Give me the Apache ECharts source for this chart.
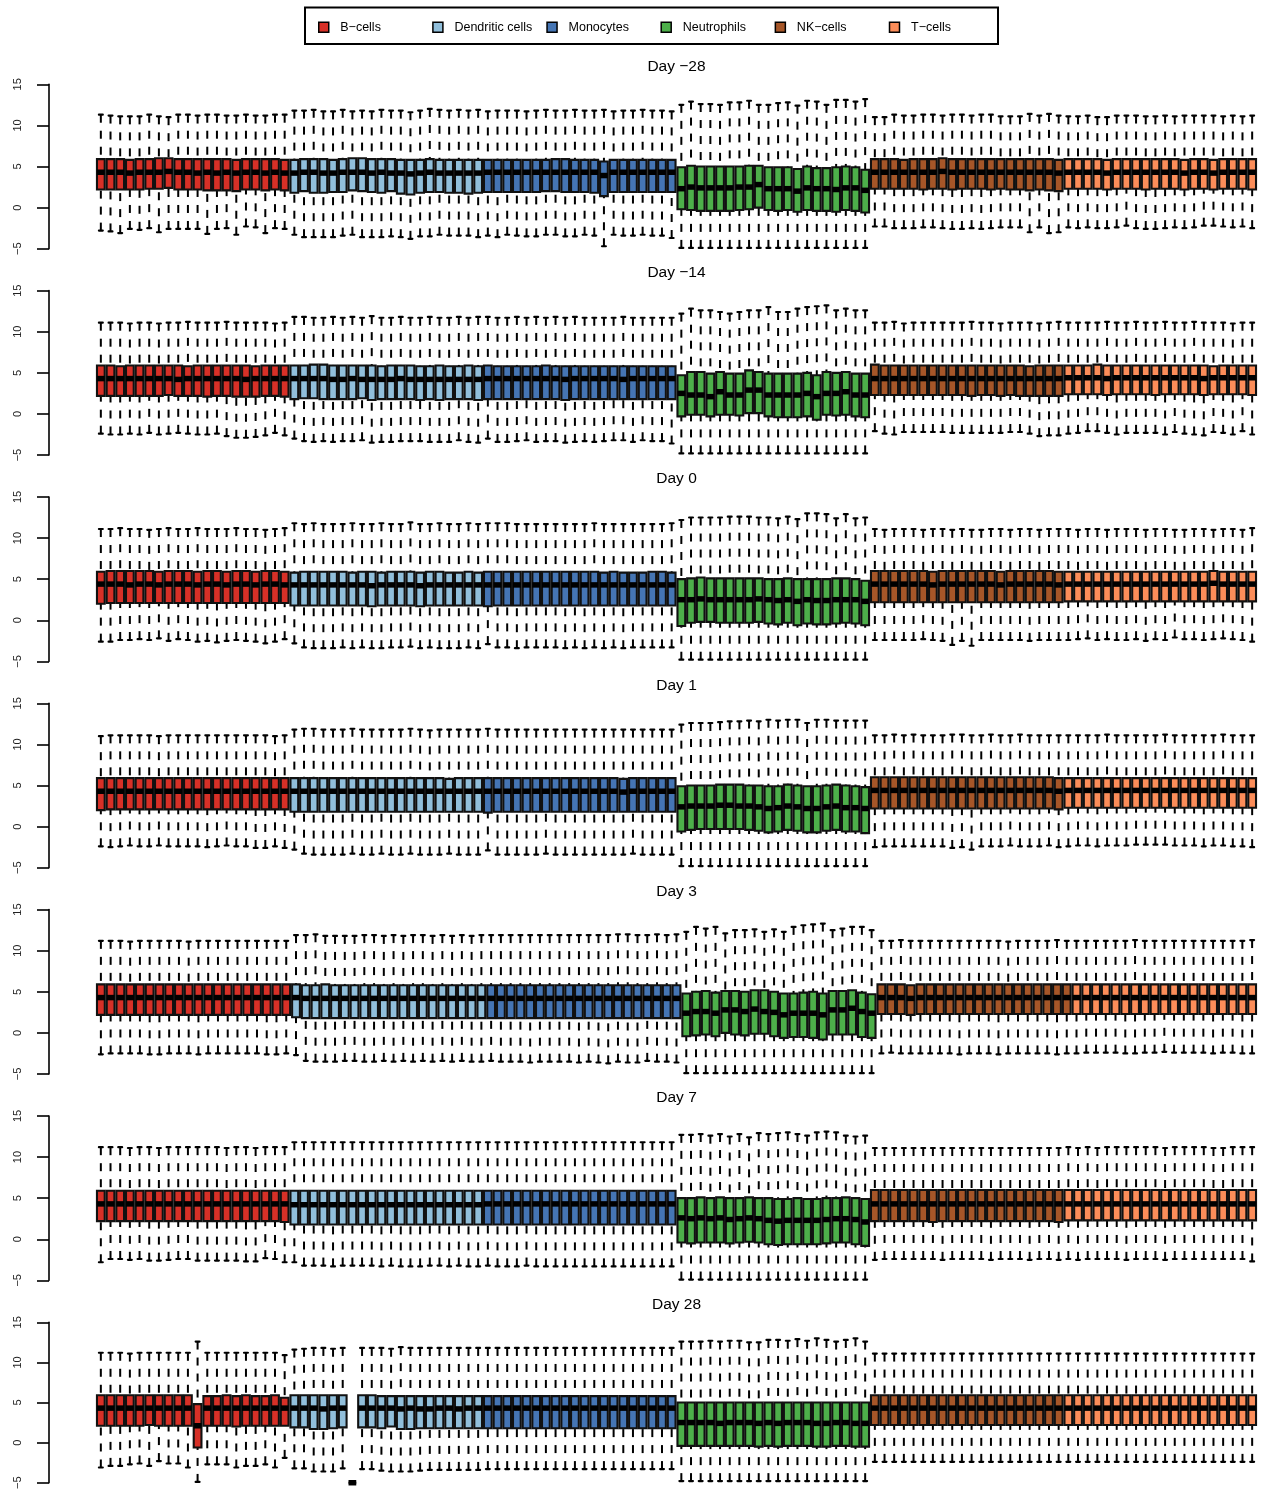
<!DOCTYPE html>
<html>
<head>
<meta charset="utf-8">
<script src="https://cdn.jsdelivr.net/npm/echarts@6/dist/echarts.min.js"></script>
<style>
html, body { margin: 0; padding: 0; background: #fff; }
#chart { width: 1264px; height: 1492px; }
</style>
</head>
<body>
<div id="chart"></div>
<script>
// Cell types, colours and panels
const cellTypes = ['B\u2212cells', 'Dendritic cells', 'Monocytes', 'Neutrophils', 'NK\u2212cells', 'T\u2212cells'];
const cellColors = ['#D73027', '#91BFDB', '#4575B4', '#4DAF4A', '#A65628', '#FC8D59'];
const dayLabels = ['Day \u221228', 'Day \u221214', 'Day 0', 'Day 1', 'Day 3', 'Day 7', 'Day 28'];
const yTicks = [-5, 0, 5, 10, 15];
// number of samples (boxes) per cell type, per day
const groupSizes = [
  [20, 20, 20, 20, 20, 20],
  [20, 20, 20, 20, 20, 20],
  [20, 20, 20, 20, 20, 20],
  [20, 20, 20, 20, 20, 20],
  [20, 20, 20, 20, 20, 19],
  [20, 20, 20, 20, 20, 20],
  [20, 20, 20, 20, 20, 20]
];

// ---- Day -28: upper whisker, Q3, median, Q1, lower whisker (per sample) ----
const dayM28Hi = [
  11.3,11.2,11.1,11.1,11.1,11.3,11.1,11.0,11.3,11.3,11.2,11.3,11.3,11.2,11.2,11.3,11.2,11.2,11.3,11.3,
  11.8,11.8,11.9,11.7,11.7,11.9,11.7,11.8,11.7,11.9,11.8,11.8,11.6,11.8,12.0,11.9,11.8,11.9,11.8,11.9,
  11.7,11.8,11.8,11.8,11.7,11.8,11.9,11.8,11.8,11.9,11.8,11.8,11.9,11.7,11.8,11.8,11.9,11.8,11.8,11.7,
  12.5,12.9,12.6,12.6,12.5,12.8,12.8,13.0,12.5,12.5,12.7,12.8,12.4,13.0,12.9,12.5,13.1,13.1,12.9,13.2,
  11.0,11.0,11.3,11.2,11.2,11.3,11.3,11.2,11.3,11.3,11.2,11.3,11.3,11.1,11.1,11.1,11.4,11.2,11.4,11.2,
  11.1,11.1,11.2,11.0,11.0,11.2,11.2,11.2,11.1,11.1,11.2,11.1,11.2,11.2,11.2,11.2,11.1,11.2,11.1,11.2
];
const dayM28Q3 = [
  5.9,5.9,5.9,5.8,5.9,5.9,6.0,6.0,5.9,5.9,5.9,5.9,5.9,5.9,5.8,5.9,5.9,5.9,5.9,5.8,
  5.8,5.9,5.9,5.9,5.8,5.9,6.0,6.0,5.9,5.9,5.9,5.8,5.8,5.8,5.9,5.8,5.8,5.8,5.8,5.8,
  5.8,5.8,5.8,5.8,5.8,5.8,5.8,5.9,5.9,5.8,5.8,5.8,5.6,5.8,5.8,5.8,5.8,5.8,5.8,5.8,
  4.9,5.1,5.0,5.0,5.0,5.0,5.0,5.1,5.1,4.9,4.9,4.9,4.7,5.0,4.8,4.8,4.9,5.0,4.9,4.6,
  5.9,5.9,5.9,5.8,5.9,5.9,5.9,6.0,5.9,5.9,5.9,5.9,5.9,5.9,5.9,5.9,5.9,5.9,5.9,5.8,
  5.9,5.9,5.9,5.9,5.8,5.9,5.9,5.9,5.9,5.9,5.9,5.9,5.8,5.9,5.9,5.8,5.9,5.9,5.9,5.9
];
const dayM28Med = [
  4.3,4.3,4.3,4.2,4.3,4.3,4.3,4.4,4.3,4.3,4.2,4.3,4.2,4.3,4.2,4.3,4.3,4.2,4.3,4.2,
  4.2,4.3,4.3,4.2,4.2,4.3,4.3,4.3,4.2,4.3,4.2,4.2,4.1,4.2,4.3,4.2,4.2,4.2,4.2,4.2,
  4.3,4.3,4.3,4.3,4.3,4.3,4.3,4.3,4.3,4.3,4.3,4.3,3.9,4.3,4.3,4.3,4.3,4.3,4.3,4.3,
  2.3,2.5,2.4,2.4,2.4,2.4,2.5,2.5,2.8,2.3,2.3,2.3,2.0,2.4,2.3,2.3,2.2,2.4,2.4,2.1,
  4.3,4.3,4.3,4.3,4.3,4.3,4.3,4.4,4.3,4.3,4.3,4.3,4.3,4.3,4.3,4.3,4.3,4.3,4.3,4.2,
  4.3,4.3,4.3,4.3,4.2,4.3,4.3,4.3,4.3,4.3,4.3,4.3,4.2,4.3,4.3,4.2,4.3,4.3,4.3,4.3
];
const dayM28Q1 = [
  2.2,2.2,2.2,2.2,2.2,2.3,2.3,2.4,2.2,2.2,2.2,2.1,2.1,2.1,2.0,2.2,2.2,2.1,2.2,2.1,
  1.8,2.0,1.8,1.8,1.9,1.9,2.1,2.0,1.9,1.8,2.0,1.7,1.6,1.8,1.9,1.9,1.8,1.8,1.7,1.8,
  1.9,1.9,1.9,1.9,1.9,1.9,2.0,2.0,1.9,1.9,1.9,1.8,1.4,1.9,1.9,1.9,1.9,1.9,1.9,1.9,
  -0.2,-0.3,-0.4,-0.4,-0.4,-0.4,-0.3,-0.2,0.0,-0.3,-0.4,-0.3,-0.5,-0.3,-0.4,-0.4,-0.5,-0.3,-0.4,-0.6,
  2.3,2.3,2.3,2.3,2.3,2.2,2.3,2.3,2.2,2.3,2.3,2.3,2.2,2.3,2.2,2.2,2.1,2.2,2.1,2.0,
  2.3,2.3,2.3,2.3,2.2,2.3,2.3,2.3,2.2,2.3,2.3,2.3,2.2,2.3,2.3,2.2,2.3,2.3,2.3,2.2
];
const dayM28Lo = [
  -2.8,-2.9,-3.1,-2.6,-2.7,-2.5,-3.0,-2.6,-2.6,-2.6,-2.6,-3.2,-2.6,-2.5,-3.3,-2.3,-2.4,-3.1,-2.5,-2.6,
  -3.3,-3.6,-3.6,-3.6,-3.6,-3.4,-3.3,-3.6,-3.6,-3.6,-3.5,-3.6,-3.8,-3.5,-3.5,-3.3,-3.4,-3.4,-3.4,-3.6,
  -3.4,-3.6,-3.3,-3.4,-3.5,-3.5,-3.3,-3.3,-3.5,-3.5,-3.3,-3.4,-4.7,-3.3,-3.4,-3.4,-3.3,-3.4,-3.4,-3.7,
  -4.9,-4.9,-4.9,-4.9,-4.9,-4.9,-4.9,-4.9,-4.9,-4.9,-4.9,-4.9,-4.9,-4.9,-4.9,-4.9,-4.9,-4.9,-4.9,-4.9,
  -2.3,-2.3,-2.5,-2.5,-2.5,-2.4,-2.4,-2.5,-2.6,-2.6,-2.5,-2.6,-2.5,-2.4,-2.4,-2.4,-3.0,-2.4,-3.1,-3.0,
  -2.4,-2.5,-2.4,-2.5,-2.5,-2.4,-2.2,-2.5,-2.6,-2.6,-2.5,-2.4,-2.5,-2.4,-2.2,-2.2,-2.3,-2.4,-2.3,-2.5
];

// ---- Day -14 ----
const dayM14Hi = [
  11.1,11.1,11.1,11.0,11.1,11.1,11.0,11.1,11.1,11.2,11.1,11.1,11.1,11.2,11.1,11.1,11.1,11.1,11.0,11.1,
  11.8,11.8,11.7,11.7,11.8,11.7,11.8,11.7,11.9,11.7,11.7,11.8,11.7,11.7,11.8,11.7,11.7,11.8,11.7,11.8,
  11.8,11.7,11.7,11.8,11.7,11.8,11.7,11.8,11.7,11.8,11.7,11.7,11.7,11.7,11.8,11.7,11.7,11.7,11.7,11.7,
  12.2,12.8,12.6,12.6,12.4,12.2,12.4,12.6,12.6,13.0,12.4,12.4,12.8,13.0,13.1,13.2,12.6,12.8,12.6,12.6,
  11.1,11.1,11.2,11.0,11.1,11.1,11.1,11.1,11.1,11.1,11.2,11.1,11.1,11.0,11.1,11.1,11.1,11.0,11.1,11.2,
  11.1,11.1,11.1,11.1,11.2,11.1,11.1,11.2,11.1,11.1,11.2,11.1,11.1,11.2,11.1,11.1,11.1,11.0,11.1,11.1
];
const dayM14Q3 = [
  5.9,5.9,5.8,5.9,5.9,5.9,5.9,5.9,5.9,5.8,5.9,5.9,5.9,5.9,5.9,5.9,5.8,5.9,5.9,5.9,
  5.9,5.9,6.0,6.0,5.9,5.9,5.9,5.9,5.9,5.8,5.9,5.9,5.9,5.8,5.8,5.9,5.8,5.8,5.9,5.8,
  5.9,5.8,5.8,5.8,5.8,5.8,5.9,5.8,5.8,5.8,5.8,5.8,5.8,5.8,5.8,5.8,5.8,5.8,5.8,5.8,
  4.7,5.1,5.1,4.9,5.1,4.9,4.9,5.3,5.1,4.9,4.9,4.9,4.9,5.0,4.7,5.1,5.0,5.1,4.9,4.9,
  6.0,5.9,5.9,5.9,5.9,5.9,5.9,5.9,5.9,5.9,5.9,5.9,5.9,5.9,5.9,5.9,5.8,5.9,5.9,5.9,
  5.9,5.9,5.9,6.0,5.9,5.9,5.9,5.9,5.9,5.9,5.9,5.9,5.9,5.9,5.9,5.8,5.9,5.9,5.9,5.9
];
const dayM14Med = [
  4.3,4.3,4.3,4.3,4.3,4.3,4.3,4.3,4.2,4.3,4.3,4.3,4.3,4.3,4.3,4.2,4.3,4.3,4.3,4.3,
  4.3,4.3,4.3,4.3,4.2,4.2,4.3,4.2,4.2,4.2,4.2,4.3,4.2,4.2,4.2,4.2,4.2,4.2,4.2,4.2,
  4.3,4.3,4.3,4.3,4.3,4.3,4.3,4.3,4.2,4.3,4.3,4.3,4.3,4.3,4.2,4.3,4.3,4.3,4.3,4.3,
  2.5,2.3,2.3,2.1,2.7,2.3,2.3,2.9,2.9,2.3,2.3,2.3,2.3,2.5,2.1,2.5,2.5,2.7,2.3,2.3,
  4.3,4.3,4.3,4.3,4.3,4.3,4.3,4.3,4.3,4.3,4.3,4.3,4.3,4.3,4.3,4.3,4.3,4.3,4.3,4.3,
  4.4,4.4,4.4,4.4,4.3,4.4,4.4,4.4,4.4,4.4,4.4,4.4,4.4,4.4,4.3,4.4,4.4,4.4,4.4,4.4
];
const dayM14Q1 = [
  2.2,2.2,2.2,2.2,2.2,2.2,2.2,2.3,2.2,2.2,2.2,2.1,2.2,2.2,2.1,2.1,2.1,2.2,2.2,2.1,
  1.8,1.9,1.9,1.8,1.8,1.8,1.8,1.9,1.7,1.8,1.8,1.8,1.8,1.7,1.8,1.7,1.8,1.8,1.8,1.7,
  1.8,1.8,1.8,1.8,1.8,1.8,1.8,1.8,1.7,1.8,1.8,1.8,1.8,1.8,1.8,1.8,1.8,1.8,1.8,1.8,
  -0.3,-0.1,-0.1,-0.3,-0.1,-0.1,-0.2,0.1,0.1,-0.3,-0.4,-0.4,-0.4,-0.3,-0.7,-0.1,-0.2,-0.1,-0.3,-0.4,
  2.3,2.3,2.3,2.3,2.3,2.3,2.3,2.3,2.3,2.3,2.2,2.3,2.3,2.2,2.3,2.2,2.2,2.2,2.2,2.2,
  2.4,2.4,2.4,2.4,2.3,2.4,2.4,2.4,2.4,2.3,2.4,2.4,2.4,2.4,2.3,2.4,2.4,2.4,2.4,2.3
];
const dayM14Lo = [
  -2.4,-2.5,-2.5,-2.4,-2.5,-2.3,-2.5,-2.4,-2.3,-2.4,-2.5,-2.5,-2.4,-2.7,-2.9,-2.9,-2.8,-2.6,-2.3,-2.6,
  -3.0,-3.3,-3.4,-3.3,-3.4,-3.3,-3.3,-3.2,-3.5,-3.4,-3.4,-3.3,-3.3,-3.3,-3.4,-3.4,-3.4,-3.2,-3.4,-3.5,
  -3.0,-3.4,-3.4,-3.3,-3.2,-3.4,-3.3,-3.3,-3.5,-3.4,-3.3,-3.4,-3.3,-3.2,-3.2,-3.4,-3.2,-3.3,-3.3,-3.6,
  -4.8,-4.8,-4.8,-4.8,-4.8,-4.8,-4.8,-4.8,-4.8,-4.8,-4.8,-4.8,-4.8,-4.8,-4.8,-4.8,-4.8,-4.8,-4.8,-4.8,
  -2.1,-2.4,-2.5,-2.2,-2.2,-2.2,-2.2,-2.2,-2.3,-2.3,-2.3,-2.3,-2.3,-2.3,-2.2,-2.2,-2.4,-2.7,-2.6,-2.6,
  -2.4,-2.3,-2.1,-2.1,-2.3,-2.5,-2.3,-2.3,-2.3,-2.3,-2.5,-2.2,-2.4,-2.5,-2.6,-2.2,-2.3,-2.5,-2.1,-2.5
];

// ---- Day 0 ----
const day0Hi = [
  11.1,11.1,11.2,11.1,11.1,11.0,11.1,11.2,11.1,11.1,11.2,11.1,11.1,11.1,11.2,11.1,11.1,11.0,11.1,11.2,
  11.8,11.7,11.8,11.7,11.7,11.7,11.8,11.7,11.7,11.8,11.7,11.7,11.9,11.7,11.7,11.8,11.7,11.7,11.8,11.7,
  11.8,11.8,11.8,11.7,11.7,11.7,11.7,11.7,11.7,11.7,11.7,11.8,11.7,11.7,11.7,11.7,11.7,11.7,11.7,11.8,
  12.2,12.5,12.5,12.5,12.5,12.6,12.6,12.6,12.5,12.5,12.4,12.6,12.3,13.0,13.0,12.9,12.4,12.9,12.4,12.5,
  11.1,11.0,11.1,11.1,11.1,11.0,11.1,11.1,11.0,11.1,11.0,11.0,11.1,11.1,11.0,11.1,11.1,11.0,11.1,11.1,
  11.1,11.0,11.1,11.1,11.0,11.1,11.1,11.1,11.0,11.1,11.1,11.0,11.0,11.1,11.1,11.0,11.1,11.1,11.0,11.2
];
const day0Q3 = [
  5.9,6.0,6.0,6.0,6.0,6.0,5.9,6.0,6.0,6.0,5.9,6.0,6.0,5.9,6.0,6.0,5.9,6.0,6.0,5.9,
  5.8,5.9,5.9,5.9,5.9,5.9,5.8,5.9,5.9,5.8,5.9,5.9,5.9,5.8,5.9,5.9,5.8,5.8,5.9,5.8,
  5.9,5.9,5.9,5.9,5.9,5.9,5.9,5.9,5.9,5.9,5.9,5.9,5.8,5.9,5.8,5.8,5.8,5.9,5.9,5.8,
  5.0,5.1,5.2,5.1,5.1,5.1,5.1,5.1,5.1,5.0,5.0,5.1,5.0,5.0,5.0,5.0,5.1,5.1,5.0,4.8,
  6.0,6.0,6.0,6.0,6.0,6.0,5.9,6.0,6.0,6.0,6.0,6.0,6.0,5.9,6.0,6.0,6.0,6.0,6.0,5.9,
  5.9,5.9,5.9,5.9,5.9,5.9,5.9,5.9,5.9,5.9,5.9,5.9,5.9,5.9,5.9,6.0,5.9,5.9,5.9,5.9
];
const day0Med = [
  4.4,4.4,4.4,4.3,4.4,4.4,4.3,4.4,4.4,4.4,4.3,4.4,4.4,4.3,4.4,4.4,4.3,4.4,4.4,4.3,
  4.3,4.3,4.3,4.3,4.3,4.3,4.3,4.3,4.2,4.3,4.3,4.3,4.3,4.2,4.3,4.3,4.3,4.3,4.3,4.3,
  4.3,4.3,4.3,4.3,4.3,4.3,4.3,4.3,4.3,4.3,4.3,4.3,4.3,4.3,4.3,4.3,4.3,4.3,4.3,4.3,
  2.5,2.5,2.6,2.5,2.5,2.5,2.5,2.5,2.6,2.5,2.4,2.5,2.3,2.5,2.4,2.4,2.5,2.5,2.5,2.3,
  4.4,4.4,4.4,4.4,4.4,4.4,4.3,4.4,4.4,4.4,4.4,4.4,4.4,4.3,4.4,4.4,4.4,4.4,4.4,4.3,
  4.4,4.4,4.4,4.4,4.4,4.4,4.4,4.4,4.4,4.4,4.4,4.4,4.4,4.4,4.4,4.5,4.4,4.4,4.4,4.4
];
const day0Q1 = [
  2.0,2.1,2.1,2.1,2.1,2.1,2.1,2.1,2.1,2.1,2.1,2.1,2.1,2.1,2.1,2.1,2.1,2.1,2.1,2.1,
  1.8,1.8,1.8,1.8,1.8,1.8,1.8,1.8,1.7,1.8,1.8,1.8,1.8,1.7,1.8,1.8,1.8,1.8,1.8,1.8,
  1.7,1.8,1.8,1.8,1.8,1.8,1.8,1.8,1.8,1.8,1.8,1.8,1.8,1.8,1.8,1.8,1.8,1.8,1.8,1.8,
  -0.7,-0.3,-0.2,-0.2,-0.3,-0.3,-0.3,-0.3,-0.2,-0.4,-0.5,-0.3,-0.6,-0.4,-0.5,-0.5,-0.4,-0.3,-0.4,-0.6,
  2.2,2.2,2.2,2.2,2.2,2.2,2.2,2.2,2.2,2.2,2.2,2.2,2.2,2.2,2.2,2.2,2.2,2.2,2.2,2.2,
  2.3,2.3,2.3,2.3,2.3,2.3,2.3,2.3,2.3,2.3,2.3,2.3,2.3,2.3,2.3,2.3,2.3,2.3,2.3,2.3
];
const day0Lo = [
  -2.6,-2.6,-2.4,-2.4,-2.3,-2.4,-2.2,-2.5,-2.3,-2.4,-2.6,-2.5,-2.7,-2.5,-2.4,-2.5,-2.6,-2.8,-2.6,-2.3,
  -2.8,-3.3,-3.4,-3.4,-3.4,-3.3,-3.4,-3.3,-3.4,-3.4,-3.3,-3.3,-3.2,-3.4,-3.3,-3.4,-3.4,-3.4,-3.3,-3.4,
  -2.9,-3.3,-3.3,-3.4,-3.3,-3.3,-3.3,-3.3,-3.4,-3.3,-3.4,-3.3,-3.4,-3.3,-3.4,-3.3,-3.3,-3.3,-3.3,-3.3,
  -4.8,-4.8,-4.8,-4.8,-4.8,-4.8,-4.8,-4.8,-4.8,-4.8,-4.8,-4.8,-4.8,-4.8,-4.8,-4.8,-4.8,-4.8,-4.8,-4.8,
  -2.4,-2.4,-2.4,-2.4,-2.4,-2.3,-2.4,-2.5,-3.0,-2.5,-3.1,-2.4,-2.4,-2.4,-2.4,-2.4,-2.5,-2.4,-2.4,-2.4,
  -2.4,-2.3,-2.2,-2.4,-2.3,-2.4,-2.4,-2.3,-2.5,-2.3,-2.4,-2.1,-2.3,-2.3,-2.4,-2.3,-2.2,-2.3,-2.4,-2.6
];

// ---- Day 1 ----
const day1Hi = [
  11.0,11.1,11.1,11.1,11.1,11.1,11.0,11.1,11.1,11.1,11.1,11.1,11.1,11.1,11.1,11.1,11.1,11.1,11.0,11.1,
  11.8,11.9,11.9,11.8,11.8,11.8,11.9,11.8,11.8,11.8,11.8,11.8,11.9,11.8,11.7,11.8,11.8,11.8,11.8,11.8,
  11.9,11.8,11.8,11.8,11.8,11.8,11.8,11.8,11.8,11.8,11.8,11.8,11.8,11.8,11.8,11.8,11.8,11.8,11.8,11.8,
  12.4,12.6,12.6,12.6,12.7,12.8,12.8,12.9,12.8,13.0,12.9,13.0,13.0,12.6,13.0,13.0,12.9,12.9,12.9,12.9,
  11.1,11.1,11.2,11.1,11.2,11.1,11.1,11.1,11.2,11.2,11.1,11.1,11.2,11.1,11.1,11.2,11.1,11.1,11.1,11.1,
  11.1,11.1,11.1,11.1,11.2,11.1,11.1,11.1,11.1,11.1,11.2,11.1,11.1,11.1,11.1,11.1,11.2,11.1,11.1,11.1
];
const day1Q3 = [
  5.9,5.9,5.9,5.9,5.9,5.9,5.9,5.9,5.9,5.9,5.9,5.9,5.9,5.9,5.9,5.9,5.9,5.9,5.9,5.9,
  5.9,5.9,5.9,5.9,5.9,5.9,5.9,5.9,5.9,5.9,5.9,5.9,5.9,5.9,5.9,5.9,5.8,5.9,5.9,5.9,
  5.9,5.9,5.9,5.9,5.9,5.9,5.9,5.9,5.9,5.9,5.9,5.9,5.9,5.9,5.8,5.9,5.9,5.9,5.9,5.9,
  4.9,5.0,5.0,5.0,5.1,5.1,5.1,5.0,5.0,4.9,4.9,5.1,5.0,4.9,4.9,5.0,5.1,5.0,4.9,4.8,
  6.0,6.0,6.0,6.0,6.0,6.0,6.0,6.0,6.0,6.0,6.0,6.0,6.0,6.0,6.0,6.0,6.0,6.0,6.0,5.9,
  5.9,5.9,5.9,5.9,5.9,5.9,5.9,5.9,5.9,5.9,5.9,5.9,5.9,5.9,5.9,5.9,5.9,5.9,5.9,5.9
];
const day1Med = [
  4.3,4.3,4.3,4.3,4.3,4.3,4.3,4.3,4.3,4.3,4.3,4.3,4.3,4.3,4.3,4.3,4.3,4.3,4.3,4.3,
  4.3,4.3,4.3,4.3,4.3,4.3,4.3,4.3,4.3,4.3,4.3,4.3,4.3,4.3,4.3,4.3,4.3,4.3,4.3,4.3,
  4.3,4.3,4.3,4.3,4.3,4.3,4.3,4.3,4.3,4.3,4.3,4.3,4.3,4.3,4.2,4.3,4.3,4.3,4.3,4.3,
  2.4,2.5,2.5,2.5,2.6,2.6,2.5,2.5,2.4,2.2,2.3,2.5,2.4,2.2,2.2,2.4,2.5,2.3,2.3,2.2,
  4.4,4.4,4.4,4.4,4.4,4.4,4.4,4.4,4.4,4.4,4.4,4.4,4.4,4.4,4.4,4.4,4.4,4.4,4.4,4.3,
  4.4,4.4,4.4,4.4,4.4,4.4,4.4,4.4,4.4,4.4,4.4,4.4,4.4,4.4,4.4,4.4,4.4,4.4,4.4,4.4
];
const day1Q1 = [
  2.0,2.1,2.1,2.1,2.1,2.1,2.1,2.1,2.1,2.1,2.1,2.1,2.1,2.1,2.1,2.1,2.1,2.1,2.1,2.1,
  1.8,1.8,1.8,1.8,1.8,1.8,1.8,1.8,1.8,1.8,1.8,1.8,1.8,1.8,1.8,1.8,1.8,1.8,1.8,1.8,
  1.7,1.8,1.8,1.8,1.8,1.8,1.8,1.8,1.8,1.8,1.8,1.8,1.8,1.8,1.8,1.8,1.8,1.8,1.8,1.8,
  -0.6,-0.4,-0.3,-0.3,-0.3,-0.3,-0.3,-0.4,-0.5,-0.7,-0.6,-0.4,-0.5,-0.7,-0.7,-0.5,-0.4,-0.6,-0.6,-0.8,
  2.2,2.2,2.2,2.2,2.2,2.2,2.2,2.2,2.2,2.2,2.2,2.2,2.2,2.2,2.2,2.2,2.2,2.2,2.2,2.1,
  2.3,2.3,2.3,2.3,2.3,2.3,2.3,2.3,2.3,2.3,2.3,2.3,2.3,2.3,2.3,2.3,2.3,2.3,2.3,2.3
];
const day1Lo = [
  -2.4,-2.5,-2.4,-2.3,-2.4,-2.4,-2.3,-2.4,-2.4,-2.4,-2.4,-2.5,-2.4,-2.3,-2.4,-2.4,-2.6,-2.6,-2.4,-2.6,
  -2.8,-3.3,-3.4,-3.4,-3.4,-3.4,-3.3,-3.4,-3.4,-3.3,-3.4,-3.4,-3.3,-3.4,-3.4,-3.4,-3.3,-3.4,-3.4,-3.4,
  -2.9,-3.4,-3.4,-3.4,-3.4,-3.4,-3.3,-3.4,-3.4,-3.4,-3.4,-3.4,-3.4,-3.4,-3.4,-3.3,-3.4,-3.4,-3.4,-3.4,
  -4.8,-4.8,-4.8,-4.8,-4.8,-4.8,-4.8,-4.8,-4.8,-4.8,-4.8,-4.8,-4.8,-4.8,-4.8,-4.8,-4.8,-4.8,-4.8,-4.8,
  -2.5,-2.4,-2.4,-2.4,-2.4,-2.4,-2.4,-2.4,-2.6,-2.5,-2.8,-2.4,-2.4,-2.4,-2.3,-2.4,-2.4,-2.4,-2.3,-2.5,
  -2.4,-2.3,-2.3,-2.4,-2.3,-2.3,-2.3,-2.2,-2.2,-2.2,-2.2,-2.3,-2.3,-2.3,-2.4,-2.3,-2.3,-2.4,-2.4,-2.5
];

// ---- Day 3 ----
const day3Hi = [
  11.2,11.2,11.2,11.1,11.2,11.2,11.2,11.2,11.2,11.1,11.2,11.2,11.2,11.2,11.2,11.2,11.2,11.2,11.2,11.2,
  11.9,11.9,12.0,11.8,11.8,11.8,11.8,11.9,11.9,11.8,11.9,11.8,11.9,11.9,11.8,11.9,11.8,11.9,11.8,11.9,
  11.9,11.9,11.9,11.9,11.9,11.9,11.9,11.9,11.9,11.9,11.9,11.9,11.9,12.0,12.0,11.9,11.9,12.0,11.9,12.0,
  12.3,12.9,12.7,12.9,12.1,12.5,12.5,12.6,12.3,12.6,12.3,12.9,13.1,13.2,13.3,12.5,12.7,12.9,12.9,12.5,
  11.2,11.2,11.3,11.2,11.2,11.2,11.2,11.2,11.2,11.2,11.2,11.2,11.2,11.1,11.2,11.2,11.2,11.2,11.3,11.2,
  11.2,11.2,11.2,11.2,11.2,11.2,11.3,11.2,11.2,11.2,11.2,11.2,11.2,11.2,11.2,11.2,11.2,11.2,11.3
];
const day3Q3 = [
  5.9,5.9,5.9,5.9,5.9,5.9,5.9,5.9,5.9,5.9,5.9,5.9,5.9,5.9,5.9,5.9,5.9,5.9,5.9,5.9,
  5.9,5.8,5.8,5.9,5.8,5.8,5.8,5.8,5.8,5.8,5.8,5.8,5.8,5.8,5.8,5.8,5.8,5.8,5.8,5.8,
  5.8,5.8,5.8,5.8,5.8,5.8,5.8,5.8,5.8,5.8,5.8,5.8,5.8,5.8,5.8,5.8,5.8,5.8,5.8,5.8,
  4.8,5.0,5.1,4.9,5.1,5.1,5.0,5.2,5.2,5.0,4.8,4.8,4.9,5.0,4.8,5.1,5.1,5.2,4.9,4.7,
  5.9,5.9,5.9,5.8,5.9,5.9,5.9,5.9,5.9,5.9,5.9,5.9,5.9,5.9,5.9,5.9,5.9,5.9,5.9,5.9,
  5.9,5.9,5.9,5.9,5.9,5.9,5.9,5.9,5.9,5.9,5.9,5.9,5.9,5.9,5.9,5.9,5.9,5.9,5.9
];
const day3Med = [
  4.3,4.3,4.3,4.3,4.3,4.3,4.3,4.3,4.3,4.3,4.3,4.3,4.3,4.3,4.3,4.3,4.3,4.3,4.3,4.3,
  4.3,4.2,4.2,4.2,4.2,4.2,4.2,4.2,4.2,4.2,4.2,4.2,4.2,4.2,4.2,4.2,4.2,4.2,4.2,4.2,
  4.2,4.2,4.2,4.2,4.2,4.2,4.2,4.2,4.2,4.2,4.2,4.2,4.2,4.2,4.2,4.2,4.2,4.2,4.2,4.2,
  2.4,2.6,2.6,2.4,2.8,2.8,2.6,2.9,2.6,2.5,2.2,2.4,2.4,2.4,2.2,2.8,2.8,3.0,2.6,2.4,
  4.3,4.3,4.3,4.2,4.3,4.3,4.3,4.3,4.3,4.3,4.3,4.3,4.3,4.3,4.3,4.3,4.3,4.3,4.3,4.3,
  4.3,4.3,4.3,4.3,4.3,4.3,4.3,4.3,4.3,4.3,4.3,4.3,4.3,4.3,4.3,4.3,4.3,4.3,4.3
];
const day3Q1 = [
  2.2,2.2,2.2,2.2,2.2,2.2,2.2,2.2,2.2,2.2,2.2,2.2,2.2,2.2,2.2,2.2,2.2,2.2,2.2,2.2,
  1.9,1.8,1.8,1.8,1.8,1.8,1.8,1.8,1.8,1.8,1.8,1.8,1.8,1.8,1.8,1.8,1.8,1.8,1.8,1.8,
  1.8,1.8,1.8,1.8,1.8,1.8,1.8,1.8,1.8,1.8,1.8,1.8,1.8,1.8,1.8,1.8,1.8,1.8,1.8,1.8,
  -0.4,-0.3,-0.2,-0.4,0.0,-0.2,-0.3,-0.1,-0.1,-0.4,-0.6,-0.5,-0.5,-0.6,-0.8,-0.2,-0.2,-0.2,-0.5,-0.6,
  2.3,2.3,2.3,2.2,2.3,2.3,2.3,2.3,2.3,2.3,2.3,2.3,2.3,2.3,2.3,2.3,2.3,2.3,2.3,2.3,
  2.3,2.3,2.3,2.3,2.3,2.3,2.3,2.3,2.3,2.3,2.3,2.3,2.3,2.3,2.3,2.3,2.3,2.3,2.3
];
const day3Lo = [
  -2.6,-2.5,-2.5,-2.5,-2.5,-2.6,-2.6,-2.5,-2.5,-2.5,-2.6,-2.5,-2.5,-2.5,-2.5,-2.5,-2.5,-2.6,-2.6,-2.5,
  -2.7,-3.4,-3.5,-3.5,-3.5,-3.4,-3.4,-3.5,-3.5,-3.4,-3.5,-3.4,-3.5,-3.4,-3.5,-3.4,-3.5,-3.4,-3.5,-3.5,
  -3.4,-3.5,-3.5,-3.5,-3.6,-3.5,-3.5,-3.5,-3.5,-3.6,-3.5,-3.6,-3.7,-3.5,-3.6,-3.6,-3.4,-3.5,-3.5,-3.6,
  -4.9,-4.9,-4.9,-4.9,-4.9,-4.9,-4.9,-4.9,-4.9,-4.9,-4.9,-4.9,-4.9,-4.9,-4.9,-4.9,-4.9,-4.9,-4.9,-4.9,
  -2.5,-2.4,-2.5,-2.5,-2.5,-2.5,-2.5,-2.5,-2.6,-2.5,-2.5,-2.5,-2.6,-2.5,-2.5,-2.5,-2.5,-2.5,-2.6,-2.5,
  -2.5,-2.4,-2.4,-2.4,-2.4,-2.5,-2.5,-2.4,-2.4,-2.3,-2.4,-2.4,-2.4,-2.4,-2.5,-2.4,-2.4,-2.5,-2.5
];

// ---- Day 7 ----
const day7Hi = [
  11.2,11.2,11.2,11.1,11.2,11.2,11.1,11.2,11.2,11.2,11.2,11.2,11.2,11.1,11.2,11.2,11.1,11.2,11.2,11.2,
  11.8,11.8,11.8,11.8,11.8,11.8,11.8,11.8,11.8,11.8,11.8,11.8,11.8,11.8,11.8,11.8,11.8,11.8,11.8,11.8,
  11.8,11.8,11.8,11.8,11.8,11.8,11.8,11.8,11.8,11.8,11.8,11.8,11.8,11.8,11.8,11.8,11.8,11.8,11.8,11.8,
  12.7,12.7,12.8,12.6,12.8,12.5,12.8,12.4,12.9,12.8,12.9,13.0,12.8,12.6,13.0,13.1,13.0,12.6,12.5,12.6,
  11.1,11.1,11.1,11.1,11.1,11.1,11.1,11.1,11.1,11.1,11.1,11.1,11.1,11.1,11.1,11.1,11.1,11.1,11.1,11.1,
  11.2,11.1,11.2,11.1,11.2,11.2,11.2,11.2,11.2,11.2,11.1,11.2,11.2,11.2,11.2,11.1,11.1,11.2,11.2,11.2
];
const day7Q3 = [
  5.9,5.9,5.9,5.9,5.9,5.9,5.9,5.9,5.9,5.9,5.9,5.9,5.9,5.9,5.9,5.9,5.9,5.9,5.9,5.9,
  5.9,5.9,5.9,5.9,5.9,5.9,5.9,5.9,5.9,5.9,5.9,5.9,5.9,5.9,5.9,5.9,5.9,5.9,5.9,5.9,
  5.9,5.9,5.9,5.9,5.9,5.9,5.9,5.9,5.9,5.9,5.9,5.9,5.9,5.9,5.9,5.9,5.9,5.9,5.9,5.9,
  5.0,5.0,5.1,5.0,5.1,5.0,5.0,5.1,5.0,5.0,4.9,4.9,5.0,4.9,4.9,5.0,5.0,5.1,5.0,4.9,
  6.0,6.0,6.0,6.0,6.0,6.0,6.0,6.0,6.0,6.0,6.0,6.0,6.0,6.0,6.0,6.0,6.0,6.0,6.0,6.0,
  6.0,6.0,6.0,6.0,6.0,6.0,6.0,6.0,6.0,6.0,6.0,6.0,6.0,6.0,6.0,6.0,6.0,6.0,6.0,6.0
];
const day7Med = [
  4.3,4.3,4.3,4.3,4.3,4.3,4.3,4.3,4.3,4.3,4.3,4.3,4.3,4.3,4.3,4.3,4.3,4.3,4.3,4.3,
  4.2,4.2,4.2,4.2,4.2,4.2,4.2,4.2,4.2,4.2,4.2,4.2,4.2,4.2,4.2,4.2,4.2,4.2,4.2,4.2,
  4.3,4.3,4.3,4.3,4.3,4.3,4.3,4.3,4.3,4.3,4.3,4.3,4.3,4.3,4.3,4.3,4.3,4.3,4.3,4.3,
  2.6,2.5,2.6,2.5,2.6,2.4,2.5,2.6,2.5,2.3,2.2,2.3,2.3,2.3,2.3,2.4,2.5,2.5,2.4,2.1,
  4.3,4.3,4.3,4.3,4.3,4.3,4.3,4.3,4.3,4.3,4.3,4.3,4.3,4.3,4.3,4.3,4.3,4.3,4.3,4.3,
  4.3,4.3,4.3,4.3,4.3,4.3,4.3,4.3,4.3,4.3,4.3,4.3,4.3,4.3,4.3,4.3,4.3,4.3,4.3,4.3
];
const day7Q1 = [
  2.2,2.2,2.2,2.2,2.2,2.2,2.2,2.2,2.2,2.2,2.2,2.2,2.2,2.2,2.2,2.2,2.2,2.2,2.2,2.1,
  1.8,1.8,1.8,1.8,1.8,1.8,1.8,1.8,1.8,1.8,1.8,1.8,1.8,1.8,1.8,1.8,1.8,1.8,1.8,1.8,
  1.8,1.8,1.8,1.8,1.8,1.8,1.8,1.8,1.8,1.8,1.8,1.8,1.8,1.8,1.8,1.8,1.8,1.8,1.8,1.8,
  -0.4,-0.5,-0.4,-0.4,-0.4,-0.5,-0.4,-0.3,-0.4,-0.6,-0.7,-0.6,-0.6,-0.6,-0.6,-0.5,-0.4,-0.4,-0.6,-0.8,
  2.2,2.2,2.2,2.2,2.2,2.2,2.1,2.2,2.2,2.2,2.2,2.2,2.2,2.2,2.2,2.2,2.2,2.2,2.2,2.1,
  2.3,2.3,2.3,2.3,2.3,2.3,2.3,2.3,2.3,2.3,2.3,2.3,2.3,2.3,2.3,2.3,2.3,2.3,2.3,2.3
];
const day7Lo = [
  -2.8,-2.4,-2.4,-2.5,-2.4,-2.6,-2.6,-2.5,-2.4,-2.4,-2.6,-2.6,-2.6,-2.6,-2.6,-2.7,-2.7,-2.3,-2.4,-2.8,
  -2.8,-3.2,-3.2,-3.2,-3.3,-3.2,-3.2,-3.2,-3.2,-3.3,-3.2,-3.3,-3.3,-3.3,-3.2,-3.2,-3.3,-3.2,-3.3,-3.3,
  -3.2,-3.3,-3.3,-3.3,-3.2,-3.3,-3.3,-3.3,-3.3,-3.3,-3.3,-3.3,-3.3,-3.3,-3.3,-3.3,-3.3,-3.3,-3.3,-3.3,
  -4.9,-4.9,-4.9,-4.9,-4.9,-4.9,-4.9,-4.9,-4.9,-4.9,-4.9,-4.9,-4.9,-4.9,-4.9,-4.9,-4.9,-4.9,-4.9,-4.9,
  -2.5,-2.4,-2.4,-2.4,-2.4,-2.4,-2.4,-2.5,-2.4,-2.4,-2.4,-2.4,-2.5,-2.4,-2.4,-2.4,-2.5,-2.4,-2.4,-2.5,
  -2.4,-2.5,-2.4,-2.4,-2.4,-2.4,-2.5,-2.4,-2.4,-2.4,-2.5,-2.4,-2.4,-2.4,-2.4,-2.4,-2.4,-2.4,-2.4,-2.7
];

// ---- Day 28 ----
const day28Hi = [
  11.2,11.2,11.2,11.1,11.2,11.2,11.2,11.2,11.2,11.2,12.6,11.2,11.2,11.2,11.2,11.2,11.2,11.2,11.2,10.9,
  11.6,11.7,11.8,11.8,11.7,11.8,-5.0,11.8,11.8,11.8,11.7,11.9,11.8,11.8,11.8,11.8,11.8,11.8,11.8,11.8,
  11.8,11.8,11.8,11.8,11.8,11.8,11.8,11.8,11.8,11.8,11.8,11.8,11.8,11.8,11.8,11.8,11.8,11.8,11.8,11.8,
  12.6,12.6,12.6,12.7,12.6,12.7,12.7,12.5,12.5,12.8,12.8,12.7,12.9,12.7,13.0,12.8,12.6,12.8,13.0,12.6,
  11.1,11.1,11.1,11.1,11.1,11.1,11.1,11.1,11.1,11.1,11.1,11.1,11.1,11.1,11.1,11.1,11.1,11.1,11.1,11.1,
  11.1,11.1,11.1,11.1,11.1,11.1,11.1,11.1,11.1,11.1,11.1,11.1,11.1,11.1,11.1,11.1,11.1,11.1,11.1,11.1
];
const day28Q3 = [
  5.9,5.9,5.9,5.9,5.9,5.9,5.9,5.9,5.9,5.9,4.8,5.8,5.8,5.9,5.8,5.9,5.8,5.8,5.9,5.6,
  5.9,5.9,5.9,5.9,5.9,5.9,-5.0,5.9,5.9,5.8,5.8,5.8,5.8,5.8,5.8,5.8,5.8,5.8,5.8,5.8,
  5.8,5.8,5.8,5.8,5.8,5.8,5.8,5.8,5.8,5.8,5.8,5.8,5.8,5.8,5.8,5.8,5.8,5.8,5.8,5.8,
  5.0,5.0,5.0,5.0,5.0,5.0,5.0,5.0,5.0,5.0,5.0,5.0,5.0,5.0,5.0,5.0,5.0,5.0,5.0,5.0,
  5.9,5.9,5.9,5.9,5.9,5.9,5.9,5.9,5.9,5.9,5.9,5.9,5.9,5.9,5.9,5.9,5.9,5.9,5.9,5.9,
  5.9,5.9,5.9,5.9,5.9,5.9,5.9,5.9,5.9,5.9,5.9,5.9,5.9,5.9,5.9,5.9,5.9,5.9,5.9,5.9
];
const day28Med = [
  4.3,4.3,4.3,4.3,4.3,4.3,4.3,4.3,4.3,4.3,2.1,4.3,4.3,4.3,4.3,4.3,4.3,4.3,4.3,4.3,
  4.3,4.3,4.3,4.2,4.3,4.3,-5.0,4.3,4.3,4.3,4.3,4.2,4.3,4.2,4.2,4.3,4.3,4.2,4.3,4.3,
  4.3,4.3,4.3,4.3,4.3,4.3,4.3,4.3,4.3,4.3,4.3,4.3,4.3,4.3,4.3,4.3,4.3,4.3,4.3,4.3,
  2.5,2.5,2.5,2.5,2.4,2.5,2.5,2.5,2.4,2.5,2.4,2.5,2.5,2.5,2.4,2.4,2.5,2.5,2.4,2.4,
  4.3,4.3,4.3,4.3,4.3,4.3,4.3,4.3,4.3,4.3,4.3,4.3,4.3,4.3,4.3,4.3,4.3,4.3,4.3,4.3,
  4.3,4.3,4.3,4.3,4.3,4.3,4.3,4.3,4.3,4.3,4.3,4.3,4.3,4.3,4.3,4.3,4.3,4.3,4.3,4.3
];
const day28Q1 = [
  2.1,2.1,2.1,2.1,2.1,2.2,2.1,2.1,2.1,2.1,-0.6,2.1,2.1,2.1,2.0,2.1,2.1,2.1,2.1,2.1,
  1.9,1.9,1.7,1.7,1.8,1.9,-5.0,1.9,1.9,1.8,2.0,1.7,1.7,1.8,1.8,1.8,1.8,1.8,1.8,1.8,
  1.8,1.8,1.8,1.8,1.8,1.8,1.8,1.8,1.8,1.8,1.8,1.8,1.8,1.8,1.8,1.8,1.8,1.8,1.8,1.8,
  -0.4,-0.4,-0.4,-0.4,-0.4,-0.4,-0.4,-0.4,-0.5,-0.4,-0.5,-0.4,-0.4,-0.4,-0.5,-0.5,-0.4,-0.4,-0.5,-0.5,
  2.2,2.2,2.2,2.2,2.2,2.2,2.2,2.2,2.2,2.2,2.2,2.2,2.2,2.2,2.2,2.2,2.2,2.2,2.2,2.2,
  2.2,2.2,2.2,2.2,2.2,2.2,2.2,2.2,2.2,2.2,2.2,2.2,2.2,2.2,2.2,2.2,2.2,2.2,2.2,2.2
];
const day28Lo = [
  -3.1,-2.9,-2.9,-2.7,-2.6,-2.9,-2.3,-2.6,-2.6,-3.1,-4.9,-2.7,-2.7,-2.7,-3.1,-2.9,-2.9,-2.7,-3.1,-1.9,
  -3.2,-3.2,-3.6,-3.6,-3.6,-3.2,-5.0,-3.3,-3.3,-3.5,-3.6,-3.6,-3.6,-3.5,-3.4,-3.4,-3.4,-3.4,-3.4,-3.4,
  -3.3,-3.3,-3.3,-3.3,-3.3,-3.3,-3.3,-3.3,-3.3,-3.3,-3.3,-3.3,-3.3,-3.3,-3.3,-3.3,-3.3,-3.3,-3.3,-3.3,
  -4.8,-4.8,-4.8,-4.8,-4.8,-4.8,-4.8,-4.8,-4.8,-4.8,-4.8,-4.8,-4.8,-4.8,-4.8,-4.8,-4.8,-4.8,-4.8,-4.8,
  -2.4,-2.4,-2.4,-2.4,-2.4,-2.4,-2.4,-2.4,-2.4,-2.4,-2.4,-2.4,-2.4,-2.4,-2.4,-2.4,-2.4,-2.4,-2.4,-2.4,
  -2.4,-2.4,-2.4,-2.4,-2.4,-2.4,-2.4,-2.4,-2.4,-2.4,-2.4,-2.4,-2.4,-2.4,-2.4,-2.4,-2.4,-2.4,-2.4,-2.4
];

// five-number summaries for each day, in panel order
const panelStats = [
  [dayM28Lo, dayM28Q1, dayM28Med, dayM28Q3, dayM28Hi],
  [dayM14Lo, dayM14Q1, dayM14Med, dayM14Q3, dayM14Hi],
  [day0Lo, day0Q1, day0Med, day0Q3, day0Hi],
  [day1Lo, day1Q1, day1Med, day1Q3, day1Hi],
  [day3Lo, day3Q1, day3Med, day3Q3, day3Hi],
  [day7Lo, day7Q1, day7Med, day7Q3, day7Hi],
  [day28Lo, day28Q1, day28Med, day28Q3, day28Hi]
];

// ---- layout ----
const FONT = '"Liberation Sans", Arial, Helvetica, sans-serif';
const PANEL_TOP = 84.3;
const PANEL_STEP = 206.33;
const PANEL_H = 164.4;
const PLOT_LEFT = 96;
const PLOT_W = 1161;

// R-style box: dashed whiskers, staples, filled box, thick median bar
function renderBox(params, api) {
  const x = api.value(0);
  const lo = api.coord([x, api.value(1)]);
  const q1 = api.coord([x, api.value(2)]);
  const md = api.coord([x, api.value(3)]);
  const q3 = api.coord([x, api.value(4)]);
  const hi = api.coord([x, api.value(5)]);
  const w = api.size([0.8, 0])[0];
  const cx = md[0];
  const sw = w * 0.5;
  const fill = api.visual('color');
  const whisk = { stroke: '#000', lineWidth: 2, lineDash: [8, 8], lineCap: 'butt' };
  const staple = { stroke: '#000', lineWidth: 2.2, lineCap: 'round' };
  return {
    type: 'group',
    children: [
      { type: 'line', shape: { x1: cx, y1: hi[1], x2: cx, y2: q3[1] }, style: whisk },
      { type: 'line', shape: { x1: cx, y1: lo[1], x2: cx, y2: q1[1] }, style: whisk },
      { type: 'line', shape: { x1: cx - sw / 2, y1: hi[1], x2: cx + sw / 2, y2: hi[1] }, style: staple },
      { type: 'line', shape: { x1: cx - sw / 2, y1: lo[1], x2: cx + sw / 2, y2: lo[1] }, style: staple },
      { type: 'rect', shape: { x: cx - w / 2, y: q3[1], width: w, height: q1[1] - q3[1] },
        style: { fill: fill, stroke: '#111', lineWidth: 2.1 } },
      { type: 'line', shape: { x1: cx - w / 2, y1: md[1], x2: cx + w / 2, y2: md[1] },
        style: { stroke: '#000', lineWidth: 5.5, lineCap: 'butt' } }
    ]
  };
}

const grids = [], xAxes = [], yAxes = [], titles = [], series = [];
dayLabels.forEach((label, k) => {
  const top = PANEL_TOP + k * PANEL_STEP;
  const sizes = groupSizes[k];
  const n = sizes.reduce((a, b) => a + b, 0);
  grids.push({ left: PLOT_LEFT, top: top, width: PLOT_W, height: PANEL_H });
  xAxes.push({ gridIndex: k, type: 'value', min: 0.5, max: n + 0.5, show: false });
  yAxes.push({
    gridIndex: k, type: 'value', min: yTicks[0], max: yTicks[yTicks.length - 1], interval: 5,
    offset: 47,
    axisLine: { show: true, lineStyle: { color: '#000', width: 1.6 } },
    axisTick: { show: true, length: 12, lineStyle: { color: '#000', width: 1.6 } },
    axisLabel: {
      rotate: 90, margin: 26, fontSize: 11, color: '#222', fontFamily: FONT,
      formatter: v => String(v).replace('-', '\u2212')
    },
    splitLine: { show: false }
  });
  titles.push({
    text: label, left: PLOT_LEFT + PLOT_W / 2 - 5, top: top - 31, textAlign: 'center',
    textStyle: { fontSize: 15.5, fontWeight: 'normal', color: '#000', fontFamily: FONT }
  });
  const [lo, q1, md, q3, hi] = panelStats[k];
  let start = 0;
  sizes.forEach((size, g) => {
    const data = [];
    for (let i = start; i < start + size; i++) {
      data.push([i + 1, lo[i], q1[i], md[i], q3[i], hi[i]]);
    }
    series.push({
      type: 'custom', name: cellTypes[g], xAxisIndex: k, yAxisIndex: k,
      itemStyle: { color: cellColors[g] },
      renderItem: renderBox,
      encode: { x: 0, y: [1, 2, 3, 4, 5] },
      clip: false,
      silent: true,
      data: data
    });
    start += size;
  });
});

const chart = echarts.init(document.getElementById('chart'), null, { renderer: 'canvas' });
chart.setOption({
  animation: false,
  backgroundColor: '#fff',
  title: titles,
  legend: {
    data: cellTypes,
    left: 313, top: 15.2,
    itemWidth: 10, itemHeight: 10, itemGap: 7.9,
    icon: 'rect',
    selectedMode: false,
    itemStyle: { borderColor: '#000', borderWidth: 1.5 },
    textStyle: { fontSize: 12.5, color: '#000', fontFamily: FONT, width: 84, padding: [0, 0, 0, 6.5], lineHeight: 14 }
  },
  graphic: [{
    type: 'rect', silent: true,
    shape: { x: 305, y: 7.5, width: 693, height: 36.5 },
    style: { fill: 'none', stroke: '#000', lineWidth: 2 }
  }],
  grid: grids,
  xAxis: xAxes,
  yAxis: yAxes,
  series: series
});
</script>
</body>
</html>
